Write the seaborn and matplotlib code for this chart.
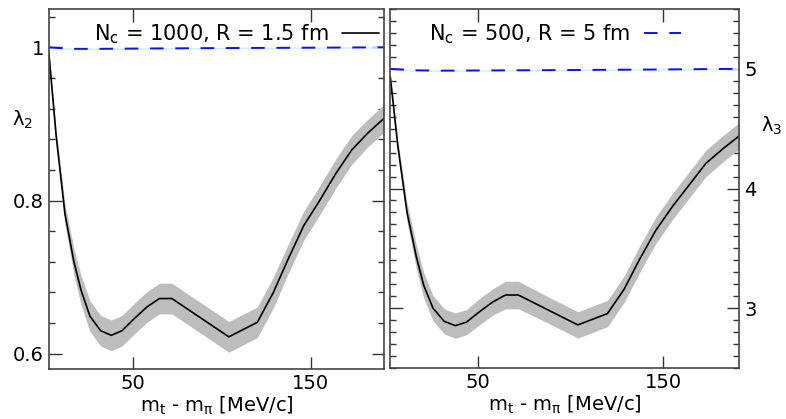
import numpy as np
import seaborn as sns
import matplotlib.pyplot as plt
from matplotlib.ticker import MultipleLocator

# transverse mass axis (MeV/c)
mt = [3, 7, 12, 17, 21, 26, 32, 38, 44, 51, 58, 65, 72, 88, 104, 120,
      129, 137, 146, 155, 164, 173, 182, 191]

# lambda_2, Nc = 1000, R = 1.5 fm
lam2 = [0.991, 0.885, 0.782, 0.720, 0.683, 0.649, 0.630, 0.624, 0.630, 0.646,
        0.661, 0.672, 0.672, 0.647, 0.622, 0.641, 0.680, 0.722, 0.767, 0.800,
        0.835, 0.866, 0.888, 0.907]
lam2_err = [0.003, 0.008, 0.013, 0.017, 0.019, 0.020, 0.020, 0.020, 0.020, 0.020,
            0.020, 0.020, 0.020, 0.020, 0.020, 0.020, 0.020, 0.019, 0.019, 0.019,
            0.019, 0.019, 0.018, 0.018]

# lambda_3, Nc = 1000, R = 1.5 fm
lam3 = [4.93, 4.36, 3.80, 3.43, 3.19, 3.00, 2.89, 2.854, 2.883, 2.97,
        3.05, 3.11, 3.11, 2.985, 2.86, 2.955, 3.16, 3.40, 3.65, 3.85,
        4.03, 4.21, 4.33, 4.44]
lam3_err = [0.02, 0.05, 0.08, 0.10, 0.105, 0.105, 0.105, 0.105, 0.105, 0.11,
            0.11, 0.115, 0.115, 0.11, 0.11, 0.11, 0.11, 0.11, 0.11, 0.11,
            0.11, 0.11, 0.11, 0.11]

# Nc = 500, R = 5 fm (flat reference curves)
mt_ref = [3, 15, 30, 60, 100, 150, 191]
lam2_ref = [1.000, 0.998, 0.998, 0.9985, 0.999, 0.9995, 1.000]
lam3_ref = [5.000, 4.988, 4.985, 4.987, 4.990, 4.995, 5.000]

label_a = r'$\mathregular{N_c}$ = 1000, R = 1.5 fm'
label_b = r'$\mathregular{N_c}$ = 500, R = 5 fm'

sns.set_style("ticks")
plt.rcParams['font.family'] = ['DejaVu Sans']
plt.rcParams['text.color'] = 'black'
plt.rcParams['axes.labelcolor'] = 'black'
plt.rcParams['xtick.color'] = 'black'
plt.rcParams['ytick.color'] = 'black'

fig = plt.figure(figsize=(7.86, 4.19), dpi=100)
ax1 = fig.add_axes([0.0623, 0.1193, 0.426, 0.8592])
ax2 = fig.add_axes([0.4966, 0.1217, 0.444, 0.8568])

panels = [
    (ax1, lam2, lam2_err, lam2_ref, 0.001, (0.58, 1.05), [0.6, 0.8, 1.0], ['0.6', '0.8', '1'], 0.04),
    (ax2, lam3, lam3_err, lam3_ref, 0.006, (2.5, 5.5), [3, 4, 5], ['3', '4', '5'], 0.1),
]

for ax, y, err, yref, rerr, ylim, yt, ytl, minor in panels:
    y = np.array(y)
    err = np.array(err)
    ax.fill_between(mt, y - err, y + err, color='#bdbdbd', lw=0)
    sns.lineplot(x=mt, y=y, ax=ax, color='black', lw=1.2, label=label_a)
    ax.fill_between(mt_ref, np.array(yref) - rerr, np.array(yref) + rerr,
                    color='#c8f4f8', lw=0)
    sns.lineplot(x=mt_ref, y=yref, ax=ax, color='#1010ee', lw=1.4,
                 dashes=(7, 6), label=label_b)
    ax.set_xlim(3, 191)
    ax.set_ylim(*ylim)
    ax.set_xticks([50, 150])
    ax.set_yticks(yt)
    ax.set_yticklabels(ytl)
    ax.yaxis.set_minor_locator(MultipleLocator(minor))
    ax.tick_params(which='both', direction='in', top=True, right=True,
                   left=True, labelsize=14, color='#333333', width=1)
    ax.tick_params(which='major', length=9)
    ax.tick_params(which='minor', length=4.5)
    for s in ax.spines.values():
        s.set_color('#444444')
        s.set_linewidth(1.2)
    ax.set_xlabel(r'$\mathregular{m_t}$ - $\mathregular{m_\pi}$ [MeV/c]', fontsize=14, labelpad=1)

ax2.yaxis.tick_right()
ax2.tick_params(which='both', left=True, right=True, labelleft=False, labelright=True)

ax1.set_ylabel(r'$\mathregular{\lambda_2}$', rotation=0, fontsize=14)
ax1.yaxis.set_label_coords(-0.08, 0.662)
ax2.set_ylabel(r'$\mathregular{\lambda_3}$', rotation=0, fontsize=14)
ax2.yaxis.set_label_position('right')
ax2.yaxis.set_label_coords(1.094, 0.705)

h1 = ax1.get_lines()[0]
h2 = ax2.get_lines()[1]
leg_kw = dict(loc='upper right', frameon=False, markerfirst=False, fontsize=15,
              handlelength=1.75, handletextpad=0.65, borderpad=0.25,
              borderaxespad=0.0)
ax1.legend(handles=[h1], labels=[label_a], bbox_to_anchor=(1.0, 0.977), **leg_kw)
ax2.legend(handles=[h2], labels=[label_b], bbox_to_anchor=(0.847, 0.977), **leg_kw)

fig.savefig('out.png', dpi=100)
